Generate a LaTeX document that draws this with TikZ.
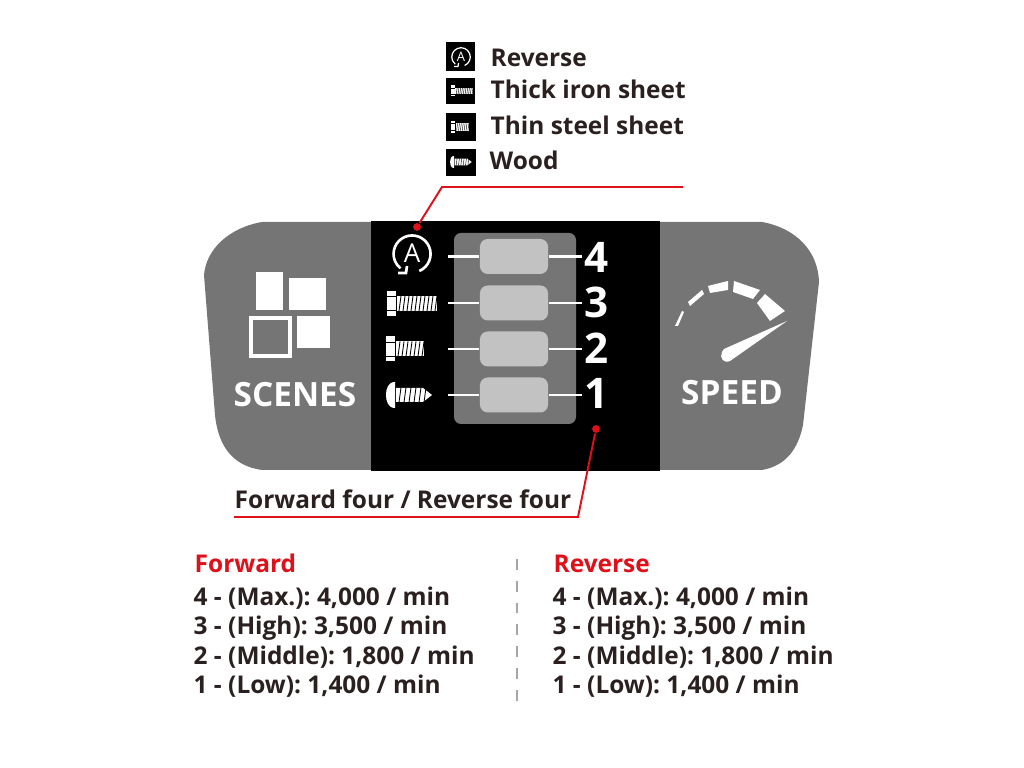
\documentclass[tikz,border=0pt]{standalone}
\usepackage{fontspec}
\setmainfont{Open Sans}
\frenchspacing
\definecolor{hgrey}{RGB}{117,117,117}
\definecolor{hgrey0}{RGB}{194,194,194}
\definecolor{hred}{RGB}{222,16,26}
\definecolor{hink}{RGB}{43,32,32}
\tikzset{
  infotext/.style={anchor=base west,inner sep=0pt,text=hink,font=\bfseries\fontsize{6.95pt}{8pt}\selectfont},
  headtext/.style={infotext,text=hred},
  paneltext/.style={inner sep=0pt,text=white,font=\bfseries\fontsize{9.5pt}{11pt}\selectfont},
  redline/.style={hred,line width=.55pt},
  reddot/.style={circle,fill=hred,inner sep=0pt,minimum size=2.2pt},
  iconbox/.style={fill=black},
  revicon/.pic={
    \draw[white] (7.3,17) arc[start angle=67,end angle=-231,radius=18.5];
    \draw[white] (-14,19) -- (-6,19) -- (-5,12);
    \node[transform shape,inner sep=0pt,text=white,font=\fontsize{7.4pt}{8pt}\selectfont] (letter) at (0,-1) {A};
  },
  longbolt/.pic={
    \fill[white] (0,-12.5) rectangle (9,12.5);
    \fill[white] (10,-7.5) rectangle (50,7.5);
    \draw[black] (0,-7) -- (9,-7) (0,7) -- (9,7);
    \foreach \t in {12,16,...,48} \draw[black] (\t,7.5) -- (\t+2,-7.5);
  },
  shortbolt/.pic={
    \fill[white] (0,-12.5) rectangle (9,12.5);
    \fill[white] (10,-7.5) rectangle (38,7.5);
    \draw[black] (0,-7) -- (9,-7) (0,7) -- (9,7);
    \foreach \t in {12,16,...,36} \draw[black] (\t,7.5) -- (\t+2,-7.5);
  },
  woodscrew/.pic={
    \fill[white] (9,-13) .. controls (2,-13) and (0,-6) .. (0,0) .. controls (0,6) and (2,13) .. (9,13) -- cycle;
    \fill[white] (10,-7) -- (37,-7) -- (46,0) -- (37,7) -- (10,7) -- cycle;
    \foreach \t in {13,18,...,38} \draw[black] (\t,7.5) -- (\t+2,-7.5);
  },
}

\begin{document}
\begin{tikzpicture}[x=0.01cm,y=-0.01cm]
\useasboundingbox (0,0) rectangle (1024,768);
%panel
\fill[hgrey] (371,222) -- (262,222) .. controls (228,228) and (206,250) .. (204,275)
  -- (215,415) .. controls (218,445) and (232,466) .. (262,470) -- (371,470) -- cycle;
\fill[hgrey] (660,222) -- (762,222) .. controls (795,228) and (818,250) .. (819,282)
  -- (803,425) .. controls (798,450) and (785,466) .. (762,470) -- (660,470) -- cycle;
\fill[black] (371,221) rectangle (660,471);
\fill[hgrey,rounded corners=2pt] (454,233) rectangle (576,424);
%buttons
\foreach \n/\y/\ny in {4/256.5/257,3/303/302.5,2/349/348,1/395/393.5} {
  \node[fill=hgrey0,rounded corners=2.2pt,minimum width=0.68cm,minimum height=0.35cm,inner sep=0pt] (btn\n) at (514,\y) {};
  \coordinate (left\n) at (448,\y);
  \coordinate (right\n) at (582,\y);
  \node[inner sep=0pt,text=white,font=\bfseries\fontsize{12pt}{14pt}\selectfont] (num\n) at (597,\ny) {\n};
  \draw[white,line width=.6pt] (left\n) -- (btn\n.west);
  \draw[white,line width=.6pt] (btn\n.east) -- (right\n);
}
\pic[line width=.75pt] (rev) at (412,254) {revicon};
\pic[line width=.25pt] (thick) at (387,303.5) {longbolt};
\pic[line width=.25pt] (thin) at (386,349) {shortbolt};
\pic[line width=.25pt] (wood) at (386,395) {woodscrew};
%scenes
\fill[white] (256,272) rectangle (283,310);
\fill[white] (289,278) rectangle (326,310);
\fill[white] (297,316) rectangle (330,348);
\draw[white,line width=1.1pt] (251,318) rectangle (290,356);
\node[paneltext] (scenes) at (295,394.5) {SCENES};
%speed
\fill[white] (675,326) -- (682,311) -- (684,312) -- (678,326) -- cycle;
\fill[white] (688,302) -- (702,290) -- (704,294) -- (690,306) -- cycle;
\fill[white] (708,286) -- (728,281) -- (728,290) -- (710,293) -- cycle;
\fill[white] (734,281) -- (760,290) -- (753,299) -- (733,292) -- cycle;
\fill[white] (765,294) -- (785,311) -- (770,321) -- (757,303) -- cycle;
\fill[white] (787,321) -- (730,361) .. controls (724,364) and (719,358) .. (722,352) -- (724,349) -- cycle;
\node[paneltext] (speed) at (732,393) {SPEED};
%legend
\fill[iconbox] (446,42) rectangle (475,71);
\fill[iconbox] (446,78) rectangle (475,104);
\fill[iconbox] (446,113) rectangle (476,141);
\fill[iconbox] (446,149) rectangle (476,176);
\pic[scale=.5,line width=.35pt] (rev0) at (461,57) {revicon};
\pic[scale=.44,line width=.12pt] (thick0) at (451,91) {longbolt};
\pic[scale=.47,line width=.12pt] (thin0) at (451,127) {shortbolt};
\pic[scale=.47,line width=.12pt] (wood0) at (450,162) {woodscrew};
\node[infotext] (t1) at (490,67) {Reverse};
\node[infotext] (t2) at (490,99) {Thick iron sheet};
\node[infotext] (t3) at (490,135) {Thin steel sheet};
\node[infotext] (t4) at (489,170) {Wood};
%callouts
\node[reddot] (dot1) at (417,227) {};
\node[reddot] (dot2) at (596,429) {};
\coordinate (elbow1) at (442,187);
\coordinate (end1) at (683,187);
\coordinate (elbow2) at (578,517);
\coordinate (end2) at (234,517);
\draw[redline] (dot1) -- (elbow1) -- (end1);
\draw[redline] (dot2) -- (elbow2) -- (end2);
\node[infotext] (modes) at (234,509) {Forward four / Reverse four};
%speeds
\node[headtext] (fwd) at (194,573) {Forward};
\node[headtext] (rvs) at (553,573) {Reverse};
\foreach \x/\c in {193/f,552/r} {
  \node[infotext] (\c4) at (\x,606) {4 - (Max.): 4,000 / min};
  \node[infotext] (\c3) at (\x,635) {3 - (High): 3,500 / min};
  \node[infotext] (\c2) at (\x,665) {2 - (Middle): 1,800 / min};
  \node[infotext] (\c1) at (\x,694) {1 - (Low): 1,400 / min};
}
\coordinate (div1) at (517,559);
\coordinate (div2) at (517,703);
\draw[gray!70,line width=.7pt,dash pattern=on 3.1pt off 3.1pt] (div1) -- (div2);
\end{tikzpicture}
\end{document}
